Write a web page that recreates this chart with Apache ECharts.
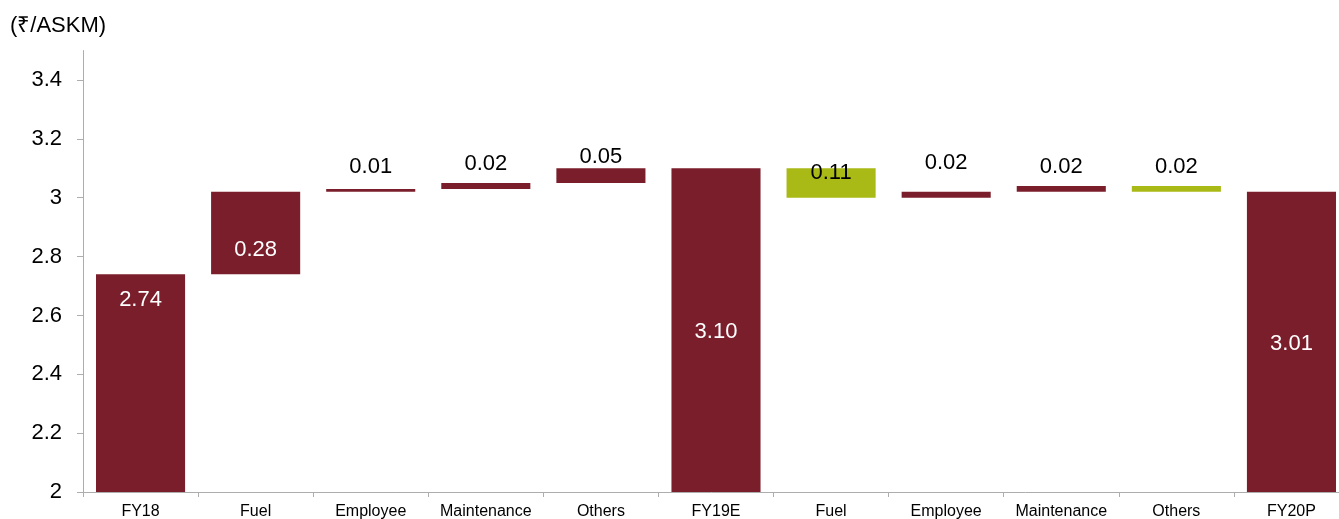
<!DOCTYPE html>
<html>
<head>
<meta charset="utf-8">
<script src="https://cdn.jsdelivr.net/npm/echarts@6/dist/echarts.min.js"></script>
<style>html,body{margin:0;padding:0;background:#fff;}#c{width:1339px;height:519px;}</style>
</head>
<body>
<div id="c"></div>
<script>
const categories = ['FY18','Fuel','Employee','Maintenance','Others','FY19E','Fuel','Employee','Maintenance','Others','FY20P'];
const barBase    = [2.00, 2.74, 3.02, 3.03, 3.05, 2.00, 3.00, 3.00, 3.02, 3.02, 2.00];
const barHeight  = [0.74, 0.28, 0.01, 0.02, 0.05, 1.10, 0.10, 0.02, 0.02, 0.02, 1.02];
const barType    = ['total','up','up','up','up','total','down','up','up','down','total'];
const labelText  = ['2.74','0.28','0.01','0.02','0.05','3.10','0.11','0.02','0.02','0.02','3.01'];
const yTicks     = [2, 2.2, 2.4, 2.6, 2.8, 3, 3.2, 3.4];

const MAROON = '#7b1e2b', GREEN = '#a9b916';
const FONT = 'Liberation Sans, Arial, sans-serif';
const labelCfg = [
  {position:'insideTop', distance:15, color:'#fff'},
  {position:'insideBottom', distance:13, color:'#fff'},
  {position:'top', distance:11, color:'#000'},
  {position:'top', distance:8, color:'#000'},
  {position:'top', distance:0, color:'#000'},
  {position:'inside', color:'#fff', offset:[0,2]},
  {position:'inside', color:'#000', offset:[0,-10]},
  {position:'top', distance:18, color:'#000'},
  {position:'top', distance:8, color:'#000'},
  {position:'top', distance:8, color:'#000'},
  {position:'inside', color:'#fff', offset:[0,2]}
];

const chart = echarts.init(document.getElementById('c'), null, {renderer:'canvas'});
chart.setOption({
  animation:false,
  backgroundColor:'#fff',
  title:{text:'(₹/ASKM)', left:10, top:15, padding:0,
    textStyle:{fontFamily:FONT, fontSize:22, fontWeight:'normal', color:'#000'}},
  grid:{left:83, right:-10, top:50.6, bottom:27, containLabel:false, outerBoundsMode:'none'},
  xAxis:{type:'category', data:categories,
    axisLine:{lineStyle:{color:'#adadad', width:1}},
    axisTick:{show:true, length:5, alignWithLabel:false, lineStyle:{color:'#adadad'}},
    axisLabel:{interval:0, margin:12, fontFamily:FONT, fontSize:16, color:'#000'}},
  yAxis:{type:'value', min:2, max:3.5,
    axisLine:{show:true, lineStyle:{color:'#adadad', width:1}},
    axisTick:{show:true, length:6, customValues:yTicks, lineStyle:{color:'#adadad'}},
    axisLabel:{customValues:yTicks, margin:21, fontFamily:FONT, fontSize:22, color:'#000'},
    splitLine:{show:false}},
  series:[
    {type:'bar', stack:'w', data:barBase, barWidth:'77.4%', silent:true,
      itemStyle:{color:'transparent'}},
    {type:'bar', stack:'w', barWidth:'77.4%',
      data:barHeight.map((v,i)=>({
        value:v,
        itemStyle:{color: barType[i]==='down' ? GREEN : MAROON},
        label:Object.assign({show:true, formatter:labelText[i], fontFamily:FONT, fontSize:22}, labelCfg[i])
      }))}
  ]
});
</script>
</body>
</html>
